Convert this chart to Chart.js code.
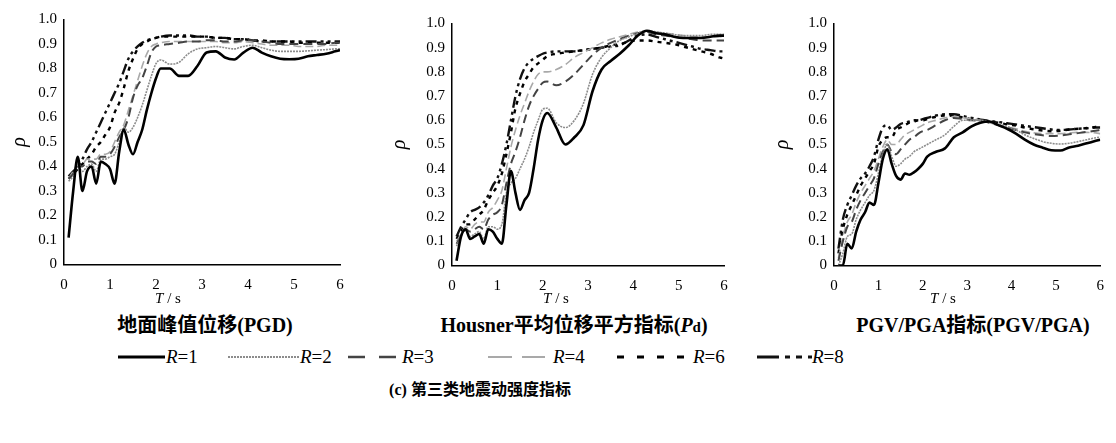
<!DOCTYPE html>
<html>
<head>
<meta charset="utf-8">
<script src="https://cdn.jsdelivr.net/npm/chart.js@4.4.0/dist/chart.umd.min.js"></script>
<style>
  body { margin: 0; background: #fff; width: 1116px; height: 443px; position: relative; overflow: hidden;
         font-family: "Liberation Serif", "DejaVu Serif", "Noto Sans CJK SC", serif; color: #000; }
  canvas { position: absolute; top: 0; }
  .lab { position: absolute; white-space: nowrap; transform: translate(-50%, -50%); }
  .axt { font-size: 15px; }
  .sub { font-size: 20px; font-weight: bold; }
  .leg { position: absolute; top: 347px; height: 20px; font-size: 19px; white-space: nowrap; }
  .leg svg { position: absolute; top: 0; }
  .leg span { position: absolute; top: -1px; }
  .cap { font-size: 16px; font-weight: bold; }
</style>
</head>
<body>
<canvas id="c1" width="360" height="300" style="left:0px"></canvas>
<canvas id="c2" width="364" height="300" style="left:380px"></canvas>
<canvas id="c3" width="353" height="300" style="left:763px"></canvas>

<div class="lab axt" style="left:168px;top:298px"><i>T</i> / s</div>
<div class="lab axt" style="left:556px;top:298px"><i>T</i> / s</div>
<div class="lab axt" style="left:943px;top:298px"><i>T</i> / s</div>

<div class="lab sub" style="left:205px;top:323px">地面峰值位移(PGD)</div>
<div class="lab sub" style="left:574px;top:323px">Housner平均位移平方指标(<i>P</i><span style="font-size:15px">d</span>)</div>
<div class="lab sub" style="left:973px;top:323px">PGV/PGA指标(PGV/PGA)</div>

<div id="legend"></div>

<div class="lab cap" style="left:480px;top:388px">(c) 第三类地震动强度指标</div>

<script>
// period T (s)
const periods = [0.1,0.2,0.3,0.4,0.5,0.6,0.7,0.8,0.9,1.0,1.1,1.2,1.3,1.4,1.5,1.6,1.7,1.8,1.9,2.0,
  2.1,2.3,2.5,2.7,2.9,3.1,3.3,3.5,3.7,3.9,4.1,4.3,4.5,4.7,4.9,5.1,5.3,5.5,5.7,5.9,6.0];

const seriesNames = ['R=1', 'R=2', 'R=3', 'R=4', 'R=6', 'R=8'];

// 地面峰值位移(PGD)
const pgdR1 = [0.11,0.30,0.44,0.30,0.38,0.40,0.33,0.42,0.41,0.39,0.33,0.46,0.55,0.49,0.45,0.50,0.55,0.63,0.70,0.76,
  0.80,0.80,0.77,0.77,0.81,0.865,0.87,0.845,0.837,0.865,0.885,0.865,0.85,0.84,0.838,0.84,0.85,0.855,0.86,0.87,0.875];
const pgdR2 = [0.34,0.36,0.40,0.38,0.40,0.41,0.38,0.43,0.43,0.44,0.45,0.50,0.56,0.54,0.56,0.60,0.65,0.71,0.77,0.82,
  0.835,0.818,0.825,0.86,0.88,0.885,0.89,0.885,0.88,0.89,0.895,0.885,0.875,0.87,0.87,0.87,0.872,0.875,0.877,0.88,0.88];
const pgdR3 = [0.35,0.37,0.40,0.40,0.42,0.42,0.41,0.44,0.44,0.45,0.48,0.52,0.55,0.60,0.68,0.73,0.76,0.81,0.865,0.89,
  0.895,0.90,0.905,0.91,0.91,0.915,0.915,0.91,0.91,0.915,0.915,0.91,0.905,0.90,0.90,0.90,0.90,0.90,0.90,0.905,0.905];
const pgdR4 = [0.35,0.38,0.41,0.41,0.43,0.43,0.43,0.45,0.45,0.46,0.50,0.54,0.57,0.63,0.69,0.75,0.81,0.86,0.89,0.90,
  0.905,0.91,0.91,0.91,0.91,0.91,0.91,0.905,0.905,0.91,0.905,0.90,0.895,0.895,0.895,0.89,0.89,0.89,0.895,0.895,0.895];
const pgdR6 = [0.35,0.37,0.39,0.41,0.43,0.45,0.48,0.50,0.53,0.56,0.62,0.66,0.72,0.79,0.84,0.88,0.90,0.91,0.92,0.925,
  0.93,0.93,0.93,0.93,0.93,0.93,0.925,0.925,0.92,0.92,0.915,0.915,0.91,0.91,0.91,0.905,0.905,0.905,0.905,0.905,0.905];
const pgdR8 = [0.36,0.38,0.40,0.43,0.47,0.50,0.54,0.58,0.62,0.66,0.70,0.74,0.79,0.84,0.87,0.89,0.905,0.915,0.92,0.925,
  0.93,0.935,0.935,0.935,0.93,0.93,0.925,0.925,0.92,0.92,0.915,0.91,0.91,0.91,0.91,0.91,0.91,0.91,0.91,0.91,0.91];

// Housner平均位移平方指标(Pd)
const pdR1 = [0.02,0.12,0.15,0.11,0.12,0.13,0.09,0.15,0.14,0.11,0.09,0.25,0.39,0.30,0.23,0.27,0.30,0.40,0.52,0.60,
  0.63,0.57,0.50,0.53,0.58,0.72,0.81,0.845,0.875,0.91,0.95,0.97,0.96,0.955,0.945,0.94,0.94,0.94,0.945,0.95,0.95];
const pdR2 = [0.08,0.12,0.15,0.12,0.13,0.14,0.11,0.16,0.16,0.15,0.17,0.30,0.34,0.36,0.40,0.44,0.49,0.55,0.60,0.645,
  0.65,0.59,0.57,0.60,0.67,0.79,0.86,0.90,0.93,0.945,0.96,0.97,0.965,0.96,0.955,0.95,0.95,0.95,0.955,0.955,0.955];
const pdR3 = [0.09,0.12,0.15,0.14,0.15,0.16,0.15,0.19,0.21,0.22,0.25,0.34,0.42,0.47,0.53,0.60,0.66,0.70,0.73,0.755,
  0.76,0.745,0.76,0.79,0.83,0.87,0.90,0.92,0.935,0.95,0.96,0.965,0.955,0.95,0.945,0.94,0.935,0.93,0.93,0.93,0.93];
const pdR4 = [0.10,0.13,0.16,0.15,0.17,0.18,0.18,0.22,0.24,0.27,0.31,0.40,0.49,0.56,0.62,0.67,0.72,0.76,0.79,0.80,
  0.80,0.81,0.83,0.86,0.88,0.90,0.92,0.935,0.945,0.955,0.965,0.97,0.965,0.96,0.955,0.95,0.945,0.945,0.945,0.945,0.945];
const pdR6 = [0.11,0.14,0.17,0.17,0.19,0.21,0.23,0.27,0.30,0.33,0.38,0.46,0.55,0.65,0.71,0.76,0.79,0.82,0.835,0.85,
  0.865,0.875,0.88,0.885,0.89,0.895,0.90,0.91,0.915,0.925,0.93,0.93,0.925,0.92,0.915,0.905,0.895,0.885,0.875,0.86,0.855];
const pdR8 = [0.12,0.16,0.19,0.22,0.23,0.24,0.26,0.29,0.33,0.36,0.42,0.50,0.60,0.70,0.77,0.815,0.84,0.855,0.865,0.875,
  0.88,0.885,0.885,0.885,0.89,0.895,0.90,0.905,0.91,0.93,0.95,0.955,0.945,0.935,0.925,0.915,0.905,0.895,0.89,0.885,0.885];

// PGV/PGA指标
const pvaR1 = [0,0,0.09,0.07,0.14,0.19,0.22,0.26,0.25,0.34,0.44,0.48,0.42,0.37,0.355,0.38,0.375,0.385,0.40,0.42,
  0.45,0.47,0.484,0.53,0.55,0.575,0.59,0.595,0.58,0.565,0.545,0.52,0.50,0.487,0.476,0.475,0.488,0.495,0.505,0.515,0.52];
const pvaR2 = [0,0.05,0.12,0.13,0.19,0.23,0.26,0.29,0.31,0.38,0.46,0.50,0.45,0.41,0.42,0.44,0.45,0.47,0.48,0.49,
  0.50,0.52,0.54,0.575,0.60,0.60,0.60,0.595,0.585,0.575,0.56,0.54,0.525,0.512,0.505,0.502,0.505,0.512,0.52,0.528,0.53];
const pvaR3 = [0.02,0.10,0.16,0.18,0.23,0.27,0.30,0.33,0.36,0.42,0.47,0.50,0.47,0.46,0.48,0.50,0.52,0.53,0.545,0.555,
  0.56,0.58,0.60,0.61,0.605,0.60,0.598,0.59,0.58,0.57,0.56,0.55,0.543,0.538,0.535,0.537,0.542,0.547,0.552,0.557,0.56];
const pvaR4 = [0.03,0.12,0.18,0.21,0.26,0.30,0.33,0.36,0.39,0.44,0.49,0.52,0.50,0.50,0.52,0.54,0.55,0.56,0.57,0.58,
  0.59,0.60,0.61,0.615,0.61,0.605,0.60,0.59,0.58,0.572,0.565,0.555,0.548,0.545,0.545,0.545,0.548,0.55,0.55,0.548,0.545];
const pvaR6 = [0.05,0.15,0.21,0.25,0.29,0.33,0.36,0.39,0.42,0.49,0.52,0.53,0.53,0.56,0.57,0.58,0.59,0.595,0.60,0.60,
  0.605,0.615,0.62,0.618,0.612,0.605,0.60,0.595,0.59,0.583,0.578,0.57,0.563,0.558,0.555,0.557,0.562,0.565,0.568,0.573,0.575];
const pvaR8 = [0.07,0.19,0.25,0.29,0.33,0.36,0.38,0.41,0.45,0.52,0.57,0.58,0.56,0.57,0.585,0.59,0.595,0.60,0.60,0.605,
  0.61,0.62,0.625,0.625,0.618,0.61,0.603,0.598,0.593,0.588,0.583,0.577,0.572,0.567,0.562,0.56,0.562,0.565,0.567,0.57,0.57];

// line looks, same order as seriesNames
const lineStyles = [
  { color: '#000000', width: 2.6, dash: [] },
  { color: '#8c8c8c', width: 1.6, dash: [2, 1] },
  { color: '#444444', width: 2.0, dash: [9, 5] },
  { color: '#a9a9a9', width: 1.6, dash: [8, 4] },
  { color: '#000000', width: 2.4, dash: [4, 5] },
  { color: '#111111', width: 2.4, dash: [11, 4, 3, 4, 3, 4] },
];

const serif = '"Liberation Serif", "DejaVu Serif", serif';
Chart.defaults.font.family = serif;

function makePanel(id, seriesList, box) {
  const datasets = seriesList.map((vals, i) => ({
    label: seriesNames[i],
    data: periods.map((t, k) => ({ x: t, y: vals[k] })),
    borderColor: lineStyles[i].color,
    borderWidth: lineStyles[i].width,
    borderDash: lineStyles[i].dash,
    pointRadius: 0,
    fill: false,
    cubicInterpolationMode: 'monotone',
  }));
  return new Chart(document.getElementById(id), {
    type: 'line',
    data: { datasets },
    options: {
      responsive: false,
      animation: false,
      layout: { padding: { top: box.top, right: box.right, left: 0, bottom: 0 } },
      plugins: { legend: { display: false }, tooltip: { enabled: false } },
      scales: {
        x: {
          type: 'linear', min: 0, max: 6,
          grid: { display: false, tickLength: 0 },
          border: { display: true, color: '#000', width: 1.5 },
          ticks: { stepSize: 1, color: '#000', padding: 12, maxRotation: 0,
                   font: { family: serif, size: 15 } },
          afterFit: (s) => { s.height = 300 - box.bottom; },
        },
        y: {
          min: 0, max: 1,
          grid: { display: false, tickLength: 0 },
          border: { display: true, color: '#000', width: 1.5 },
          ticks: { stepSize: 0.1, color: '#000', padding: 7,
                   font: { family: serif, size: 15 },
                   callback: (v) => (v === 0 ? '0' : v.toFixed(1)) },
          title: { display: true, text: 'ρ', color: '#000', padding: { top: 8, bottom: 0 },
                   font: { family: serif, size: 20, style: 'italic' } },
          afterFit: (s) => { s.width = box.axisX; },
        },
      },
    },
  });
}

makePanel('c1', [pgdR1, pgdR2, pgdR3, pgdR4, pgdR6, pgdR8], { top: 19.5, bottom: 264.5, right: 20, axisX: 64 });
makePanel('c2', [pdR1, pdR2, pdR3, pdR4, pdR6, pdR8], { top: 23.5, bottom: 265.5, right: 20, axisX: 72 });
makePanel('c3', [pvaR1, pvaR2, pvaR3, pvaR4, pvaR6, pvaR8], { top: 23.5, bottom: 265.5, right: 9, axisX: 71 });

// shared legend row
const legendSpots = [
  { line: [118, 165], text: 166 },
  { line: [228, 300], text: 300 },
  { line: [348, 400], text: 402 },
  { line: [488, 545], text: 553 },
  { line: [617, 693], text: 693 },
  { line: [757, 812], text: 812 },
];
const legendDash = [[], [2, 1], [17, 14], [24, 10], [7, 13], [22, 6, 5, 6, 6, 6]];
const legendEl = document.getElementById('legend');
seriesNames.forEach((name, i) => {
  const spot = legendSpots[i];
  const st = lineStyles[i];
  const w = spot.line[1] - spot.line[0];
  const item = document.createElement('div');
  item.className = 'leg';
  item.style.left = spot.line[0] + 'px';
  item.innerHTML =
    `<svg width="${w}" height="20" style="left:0"><line x1="0" y1="10" x2="${w}" y2="10" stroke="${st.color}" ` +
    `stroke-width="${st.width + 0.4}" stroke-dasharray="${legendDash[i].join(' ') || 'none'}"/></svg>` +
    `<span style="left:${spot.text - spot.line[0]}px"><i>R</i>=${name.slice(2)}</span>`;
  legendEl.appendChild(item);
});
</script>
</body>
</html>
